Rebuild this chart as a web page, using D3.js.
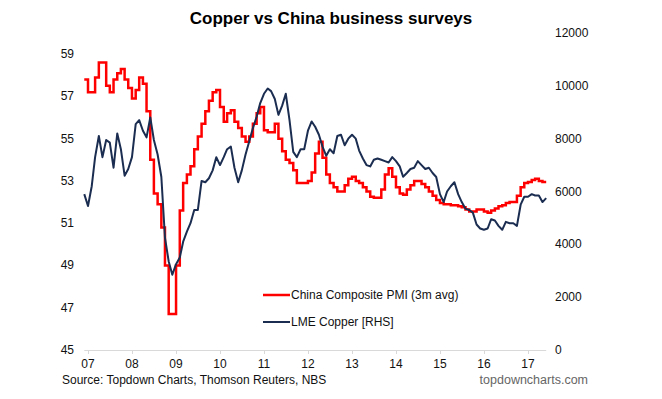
<!DOCTYPE html>
<html><head><meta charset="utf-8">
<script src="https://cdn.jsdelivr.net/npm/d3@7"></script>
<style>
body{margin:0;background:#fff}
svg{display:block;font-family:"Liberation Sans",Arial,sans-serif}
</style>
</head><body>
<svg id="c" width="662" height="399"></svg>
<script>
// ---- data (monthly, Dec 2006 .. Jun 2017) ----
const firstMonth = "2006-12-01";
const lastMonth  = "2017-06-01";

const pmi = [
 57.8,
 57.2,57.2,57.9,58.6,58.6,57.5,57.2,57.8,58.1,58.3,57.8,57.4,
 56.9,57.3,57.9,57.6,56.3,54.0,52.4,51.9,50.8,49.0,46.7,46.7,
 49.0,51.6,52.9,53.3,53.7,54.5,55.1,55.7,56.3,56.8,57.2,57.3,
 56.5,55.8,56.2,56.35,55.8,55.5,55.1,54.85,55.1,55.7,56.2,56.5,
 55.4,55.3,55.3,55.7,55.0,54.4,54.0,53.85,53.5,52.9,52.9,52.9,
 53.0,53.4,54.3,54.85,54.1,53.3,52.9,52.7,52.5,52.5,52.8,53.1,
 53.2,53.0,52.9,52.7,52.5,52.25,52.2,52.2,52.6,53.3,53.6,53.2,
 52.7,52.4,52.35,52.6,52.8,53.0,53.0,52.85,52.7,52.5,52.3,52.1,
 51.95,51.9,51.9,51.85,51.85,51.8,51.75,51.65,51.55,51.55,51.65,51.65,
 51.55,51.5,51.6,51.7,51.8,51.85,51.95,52.0,52.0,52.3,52.7,52.9,
 52.95,53.05,53.1,53.0,52.95,52.95
];

const copper = [
 5900,
 5450,6200,7300,8100,7300,7950,7850,6900,8200,7600,6600,6850,
 7300,8550,8700,8300,8050,8800,7950,7400,6550,4250,3350,2850,
 3250,3500,4100,4480,4800,5300,5300,6400,6350,6500,6800,7300,
 7000,7300,7600,7700,6900,6350,6800,7400,7900,8400,8830,9350,
 9700,9900,9800,9500,8900,9250,9700,8700,7500,7300,7600,7600,
 8300,8650,8450,8150,7700,7350,7600,7450,8100,8150,7750,8000,
 8150,8000,7550,7250,7000,6950,7200,7250,7200,7150,7100,7300,
 7150,6950,6560,6700,6850,6900,7150,7000,6850,6900,6700,6550,
 5900,5600,6000,6200,6350,5900,5600,5350,5300,5200,4750,4600,
 4550,4600,4950,4900,4700,4550,4850,4800,4800,4700,5500,5800,
 5800,5900,5850,5850,5600,5750
];

const yearLabels  = ["07","08","09","10","11","12","13","14","15","16","17"];
const leftTicks   = [45,47,49,51,53,55,57,59];
const rightTicks  = [0,2000,4000,6000,8000,10000,12000];

const titleText  = "Copper vs China business surveys";
const sourceText = "Source: Topdown Charts, Thomson Reuters, NBS";
const siteText   = "topdowncharts.com";
const legendNames = ["China Composite PMI (3m avg)", "LME Copper [RHS]"];

// ---- layout ----
const RED = "#ff0000", NAVY = "#1b2d50", AXIS = "#d9d9d9";
const svg = d3.select("#c");
const parse = d3.utcParse("%Y-%m-%d");
const months = d3.utcMonth.range(parse(firstMonth), d3.utcMonth.offset(parse(lastMonth), 1));

const x = d3.scaleUtc()
  .domain([Date.UTC(2007,0,1), Date.UTC(2017,0,1)])
  .range([88, 528]);
const yL = d3.scaleLinear().domain([45, 60]).range([350, 33]);
const yR = d3.scaleLinear().domain([0, 12000]).range([350, 33]);

// title
svg.append("text").attr("x", 331).attr("y", 24).attr("text-anchor", "middle")
  .attr("font-size", 17).attr("font-weight", "bold").attr("fill", "#000").text(titleText);

// x axis line + ticks
const yearDates = yearLabels.map((d, i) => new Date(Date.UTC(2007 + i, 0, 1)));
svg.append("line")
  .attr("x1", x(months[0])).attr("x2", x(months[months.length - 1]))
  .attr("y1", 350.5).attr("y2", 350.5).attr("stroke", AXIS).attr("stroke-width", 1);
svg.selectAll("line.xt").data(yearDates).join("line").attr("class", "xt")
  .attr("x1", d => Math.round(x(d)) + 0.5).attr("x2", d => Math.round(x(d)) + 0.5)
  .attr("y1", 350.5).attr("y2", 354).attr("stroke", AXIS);
svg.selectAll("text.xl").data(yearDates).join("text").attr("class", "xl")
  .attr("x", d => x(d)).attr("y", 368).attr("text-anchor", "middle")
  .attr("font-size", 12).attr("fill", "#111").text((d, i) => yearLabels[i]);

// left axis labels
svg.selectAll("text.yl").data(leftTicks).join("text").attr("class", "yl")
  .attr("x", 74).attr("y", d => yL(d) + 4).attr("text-anchor", "end")
  .attr("font-size", 12).attr("fill", "#111").text(d => d);

// right axis labels
svg.selectAll("text.yr").data(rightTicks).join("text").attr("class", "yr")
  .attr("x", 555).attr("y", d => yR(d) + 4).attr("text-anchor", "start")
  .attr("font-size", 12).attr("fill", "#111").text(d => d);

// lines
const pmiData = months.map((m, i) => ({ date: m, v: pmi[i] }));
const cuData  = months.map((m, i) => ({ date: m, v: copper[i] }));

svg.append("path").datum(pmiData)
  .attr("fill", "none").attr("stroke", RED).attr("stroke-width", 2.5)
  .attr("stroke-linejoin", "miter")
  .attr("d", d3.line().x(d => x(d.date)).y(d => yL(d.v)).curve(d3.curveStepAfter));

svg.append("path").datum(cuData)
  .attr("fill", "none").attr("stroke", NAVY).attr("stroke-width", 2)
  .attr("stroke-linejoin", "round")
  .attr("d", d3.line().x(d => x(d.date)).y(d => yR(d.v)));

// legend
const leg = [{ c: RED, w: 2.5, y: 295 }, { c: NAVY, w: 2, y: 322 }];
leg.forEach((l, i) => {
  svg.append("line").attr("x1", 263).attr("x2", 290).attr("y1", l.y).attr("y2", l.y)
    .attr("stroke", l.c).attr("stroke-width", l.w);
  svg.append("text").attr("x", 291).attr("y", l.y + 4).attr("font-size", 12)
    .attr("fill", "#111").text(legendNames[i]);
});

// footer
svg.append("text").attr("x", 62).attr("y", 384).attr("font-size", 12)
  .attr("fill", "#111").text(sourceText);
svg.append("text").attr("x", 588).attr("y", 384).attr("text-anchor", "end")
  .attr("font-size", 12.5).attr("fill", "#666").text(siteText);
</script>
</body></html>
